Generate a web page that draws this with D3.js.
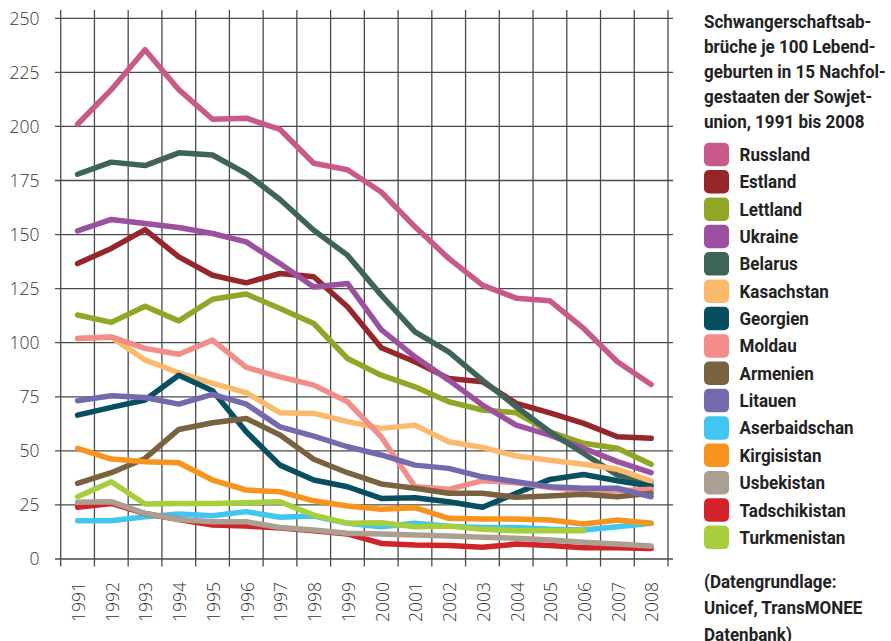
<!DOCTYPE html>
<html>
<head>
<meta charset="utf-8">
<title>Schwangerschaftsabbrüche</title>
<style>
	body { margin: 0; background: #fff; }
</style>
</head>
<body>
<script src="https://cdn.jsdelivr.net/npm/d3@7"></script>
<script>
	var years = [1991, 1992, 1993, 1994, 1995, 1996, 1997, 1998, 1999, 2000,
		2001, 2002, 2003, 2004, 2005, 2006, 2007, 2008];
	var yTicks = [0, 25, 50, 75, 100, 125, 150, 175, 200, 225, 250];

	var russland      = [201, 217, 235.5, 217, 203.3, 203.8, 198.6, 183, 180, 169.7, 153.6, 139, 126.6, 120.6, 119.4, 106.6, 91.2, 80.7];
	var estland       = [136.6, 143.6, 152.3, 139.7, 131.2, 127.7, 132, 130.5, 116.6, 97.7, 91.2, 83.5, 82, 72, 67.6, 62.7, 56.5, 55.8];
	var lettland      = [112.8, 109.4, 116.9, 110.1, 120.1, 122.5, 115.8, 108.9, 92.7, 85, 79.6, 72.7, 68.9, 67.6, 58.8, 53.5, 51.2, 43.8];
	var ukraine       = [151.7, 157, 155.1, 153.3, 150.5, 146.6, 136.6, 125.8, 127.4, 106.1, 93.5, 82.7, 71.2, 61.9, 57.3, 51.2, 45, 39.9];
	var belarus       = [177.9, 183.5, 181.9, 187.8, 186.8, 178.2, 166.2, 152, 140.5, 122, 105, 95.8, 82.7, 70.4, 58.8, 48.8, 38.8, 35.5];
	var kasachstan    = [102, 102.5, 92, 86.1, 81.2, 76.9, 67.6, 67.3, 63.5, 60.4, 61.9, 54.2, 51.6, 47.6, 45.7, 43.8, 41.5, 36];
	var georgien      = [66.5, 70.1, 73.5, 85, 77.8, 58.8, 43.4, 36.5, 33.4, 28, 28.3, 26.5, 23.9, 30.4, 36.8, 39.1, 36.2, 33.7];
	var moldau        = [102, 102.7, 97.4, 94.7, 101.2, 88.6, 84.2, 80.4, 72.7, 56.5, 33.4, 32.2, 36.2, 35.3, 33.1, 31.6, 31.6, 32.2];
	var armenien      = [35, 39.9, 46.5, 59.9, 63, 65, 57.3, 46.1, 39.9, 34.7, 32.7, 30.4, 30.4, 28.5, 29.1, 29.9, 28.8, 30.4];
	var litauen       = [73.2, 75.5, 74.7, 71.6, 76.1, 71.6, 61.1, 56.8, 51.9, 48.1, 43.4, 41.9, 38, 35.7, 33.4, 32.7, 32.7, 28.8];
	var aserbaidschan = [17.7, 17.7, 19.5, 20.8, 20, 21.9, 19.3, 19.9, 16.5, 14.9, 16.5, 15.2, 14.6, 14.6, 13.7, 13.4, 14.9, 16.5];
	var kirgisistan   = [51.2, 46.2, 45, 44.5, 36.5, 31.9, 31.1, 26.9, 24.5, 23, 23.7, 18.8, 18.5, 18.5, 18, 16.2, 18, 16.5];
	var usbekistan    = [26.2, 26.5, 21.1, 18.3, 17.2, 17.2, 14.6, 13.4, 11.9, 11.6, 11.1, 10.6, 10, 9.6, 8.8, 7.7, 6.9, 6];
	var tadschikistan = [23.9, 25.7, 21, 18.3, 15.7, 15.2, 14.3, 13, 11.6, 7.2, 6.5, 6.2, 5.4, 6.9, 6.2, 5.2, 5.2, 4.9];
	var turkmenistan  = [28.8, 35.7, 25.4, 25.7, 25.7, 26, 26.5, 20.3, 16.5, 16.8, 14.9, 15.2, 13.7, 13.1, 13.1, 13.1, null, null];

	var countries = ["Russland", "Estland", "Lettland", "Ukraine", "Belarus", "Kasachstan",
		"Georgien", "Moldau", "Armenien", "Litauen", "Aserbaidschan", "Kirgisistan",
		"Usbekistan", "Tadschikistan", "Turkmenistan"];
	var colors = ["#c9588b", "#96262a", "#8fa725", "#9c50a0", "#3e6359", "#fdb96b",
		"#064f61", "#f48c89", "#79623d", "#7469ae", "#40c6f1", "#f7941e",
		"#aa9f90", "#d2232b", "#a7ce3b"];
	var series = [russland, estland, lettland, ukraine, belarus, kasachstan, georgien,
		moldau, armenien, litauen, aserbaidschan, kirgisistan, usbekistan, tadschikistan,
		turkmenistan];
	// drawing order: the grey Usbekistan line sits on top of Tadschikistan
	var drawOrder = [0, 1, 2, 3, 4, 5, 6, 7, 8, 9, 10, 11, 13, 12, 14];

	var titleLines = ["Schwangerschaftsab-", "brüche je 100 Lebend-",
		"geburten in 15 Nachfol-", "gestaaten der Sowjet-", "union, 1991 bis 2008"];
	var sourceLines = ["(Datengrundlage:", "Unicef, TransMONEE", "Datenbank)"];

	var w = 891, h = 641;
	var svg = d3.select("body").append("svg")
		.attr("width", w)
		.attr("height", h);

	var x = d3.scaleBand().domain(years).range([60.7, 668]).padding(0);
	var y = d3.scaleLinear().domain([0, 250]).range([559, 18.3]);
	var gridColor = "#4a4a4a";

	// horizontal grid
	svg.append("g").selectAll("line")
		.data(yTicks)
		.enter().append("line")
			.attr("x1", 55).attr("x2", 673)
			.attr("y1", function(d) { return y(d) })
			.attr("y2", function(d) { return y(d) })
			.attr("stroke", gridColor)
			.attr("stroke-width", 1.3);

	// vertical grid at band edges
	var edges = years.map(function(d) { return x(d) }).concat([x.range()[1]]);
	svg.append("g").selectAll("line")
		.data(edges)
		.enter().append("line")
			.attr("x1", function(d) { return d }).attr("x2", function(d) { return d })
			.attr("y1", 10).attr("y2", 566.5)
			.attr("stroke", gridColor)
			.attr("stroke-width", 1.3);

	// y labels
	svg.append("g").selectAll("text")
		.data(yTicks)
		.enter().append("text")
			.text(function(d) { return d })
			.attr("x", 39.5)
			.attr("y", function(d) { return y(d) })
			.attr("dy", "0.36em")
			.attr("text-anchor", "end")
			.attr("font-family", "'Open Sans', sans-serif")
			.attr("font-weight", 300)
			.attr("font-size", "17.5px")
			.attr("fill", "#333");

	// x labels
	svg.append("g").selectAll("text")
		.data(years)
		.enter().append("text")
			.text(function(d) { return d })
			.attr("transform", function(d) {
				return "translate(" + (x(d) + x.bandwidth() / 2) + ",582) rotate(-90)";
			})
			.attr("dy", "0.42em")
			.attr("text-anchor", "end")
			.attr("font-family", "'Open Sans', sans-serif")
			.attr("font-weight", 300)
			.attr("font-size", "17.5px")
			.attr("fill", "#333");

	// lines
	var line = d3.line()
		.defined(function(d) { return d != null })
		.x(function(d, i) { return x(years[i]) + x.bandwidth() / 2 })
		.y(function(d) { return y(d) });

	svg.append("g").selectAll("path")
		.data(drawOrder)
		.enter().append("path")
			.attr("d", function(k) { return line(series[k]) })
			.attr("fill", "none")
			.attr("stroke", function(k) { return colors[k] })
			.attr("stroke-width", 5.5)
			.attr("stroke-linejoin", "round")
			.attr("stroke-linecap", "round");

	// legend
	var legend = svg.append("g");
	var textFont = "Roboto, sans-serif";
	var squeeze = 0.92;

	var titleG = legend.append("g").attr("transform", "translate(704,0) scale(" + squeeze + ",1)");
	titleG.selectAll("text")
		.data(titleLines)
		.enter().append("text")
			.text(function(d) { return d })
			.attr("x", 0)
			.attr("y", function(d, i) { return 28 + i * 25 })
			.attr("font-family", textFont)
			.attr("font-weight", 700)
			.attr("font-size", "18.5px")
			.attr("fill", "#222");

	var rowTop = 142.7, rowStep = 27.35;
	legend.selectAll("rect")
		.data(countries)
		.enter().append("rect")
			.attr("x", 704)
			.attr("y", function(d, i) { return rowTop + i * rowStep })
			.attr("width", 25)
			.attr("height", 23.5)
			.attr("rx", 5)
			.attr("fill", function(d, i) { return colors[i] });

	var labelG = legend.append("g").attr("transform", "translate(739.5,0) scale(" + squeeze + ",1)");
	labelG.selectAll("text")
		.data(countries)
		.enter().append("text")
			.text(function(d) { return d })
			.attr("x", 0)
			.attr("y", function(d, i) { return rowTop + 18.3 + i * rowStep })
			.attr("font-family", textFont)
			.attr("font-weight", 700)
			.attr("font-size", "18.5px")
			.attr("fill", "#222");

	var srcG = legend.append("g").attr("transform", "translate(704,0) scale(" + squeeze + ",1)");
	srcG.selectAll("text")
		.data(sourceLines)
		.enter().append("text")
			.text(function(d) { return d })
			.attr("x", 0)
			.attr("y", function(d, i) { return 588 + i * 26.5 })
			.attr("font-family", textFont)
			.attr("font-weight", 700)
			.attr("font-size", "18.5px")
			.attr("fill", "#222");
</script>
</body>
</html>
